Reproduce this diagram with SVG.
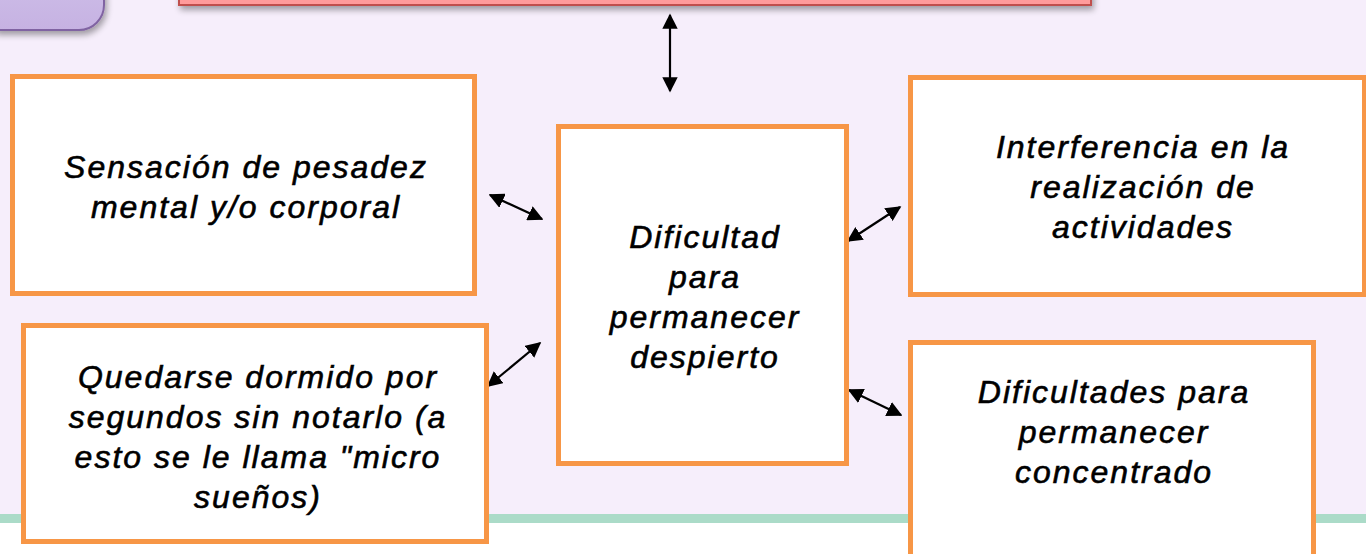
<svg xmlns="http://www.w3.org/2000/svg" width="1366" height="554" viewBox="0 0 1366 554">
<defs>
<style>
.box{fill:#ffffff;stroke:#f79646;stroke-width:5}
.t{font-family:"Liberation Sans",Arial,sans-serif;font-style:italic;font-size:32px;letter-spacing:2px;fill:#000;stroke:#000;stroke-width:0.6px;text-anchor:middle}
.c{stroke:#000;stroke-width:2.2;fill:none;marker-start:url(#ah);marker-end:url(#ah)}
</style>
<marker id="ah" viewBox="0 0 10 10" refX="9" refY="5" markerWidth="7" markerHeight="7" orient="auto-start-reverse" markerUnits="strokeWidth">
<path d="M0,0 L10,5 L0,10 Z" fill="#000"/>
</marker>
<linearGradient id="pg" x1="0" y1="0" x2="0" y2="1">
<stop offset="0" stop-color="#cdbde8"/>
<stop offset="1" stop-color="#c6b2e2"/>
</linearGradient>
<filter id="sh" x="-10%" y="-50%" width="120%" height="250%">
<feGaussianBlur in="SourceAlpha" stdDeviation="3"/>
<feOffset dx="2" dy="4" result="b"/>
<feComponentTransfer><feFuncA type="linear" slope="0.35"/></feComponentTransfer>
<feMerge><feMergeNode/><feMergeNode in="SourceGraphic"/></feMerge>
</filter>
</defs>
<rect x="0" y="0" width="1366" height="554" fill="#f6eefb"/>
<rect x="0" y="514" width="1366" height="9" fill="#abdbc8"/>
<rect x="0" y="523" width="1366" height="31" fill="#ffffff"/>
<g id="header-left">
<path d="M-5,-20 H104 V5 A25,25 0 0 1 79,30 H-5 Z" fill="url(#pg)" stroke="#8064a2" stroke-width="2" filter="url(#sh)"/>
</g>
<g id="header-top">
<rect x="179" y="-20" width="912" height="25" fill="#ff9b9b" stroke="#c0504d" stroke-width="2" filter="url(#sh)"/>
</g>
<g id="connectors">
<line class="c" x1="670" y1="15" x2="670" y2="91"/>
<line class="c" x1="490" y1="195" x2="542" y2="219"/>
<line class="c" x1="488" y1="386" x2="540" y2="343"/>
<line class="c" x1="848" y1="241" x2="900" y2="207"/>
<line class="c" x1="849" y1="390" x2="901" y2="415"/>
</g>
<g id="n-pesadez">
<rect class="box" x="12.5" y="76.5" width="462" height="217"/>
<text class="t" x="246" y="178">Sensación de pesadez</text>
<text class="t" x="246" y="218">mental y/o corporal</text>
</g>
<g id="n-center">
<rect class="box" x="558.5" y="126.5" width="288" height="337"/>
<text class="t" x="705" y="248">Dificultad</text>
<text class="t" x="705" y="288">para</text>
<text class="t" x="705" y="328">permanecer</text>
<text class="t" x="705" y="368">despierto</text>
</g>
<g id="n-interferencia">
<rect class="box" x="910.5" y="77.5" width="454" height="217"/>
<text class="t" x="1143" y="158">Interferencia en la</text>
<text class="t" x="1143" y="198">realización de</text>
<text class="t" x="1143" y="238">actividades</text>
</g>
<g id="n-microsuenos">
<rect class="box" x="23.5" y="325.5" width="463" height="216"/>
<text class="t" x="258" y="388">Quedarse dormido por</text>
<text class="t" x="258" y="428">segundos sin notarlo (a</text>
<text class="t" x="258" y="468">esto se le llama "micro</text>
<text class="t" x="258" y="508">sueños)</text>
</g>
<g id="n-concentrado">
<rect class="box" x="910.5" y="342.5" width="403" height="240"/>
<text class="t" x="1114" y="403">Dificultades para</text>
<text class="t" x="1114" y="443">permanecer</text>
<text class="t" x="1114" y="483">concentrado</text>
</g>
</svg>
